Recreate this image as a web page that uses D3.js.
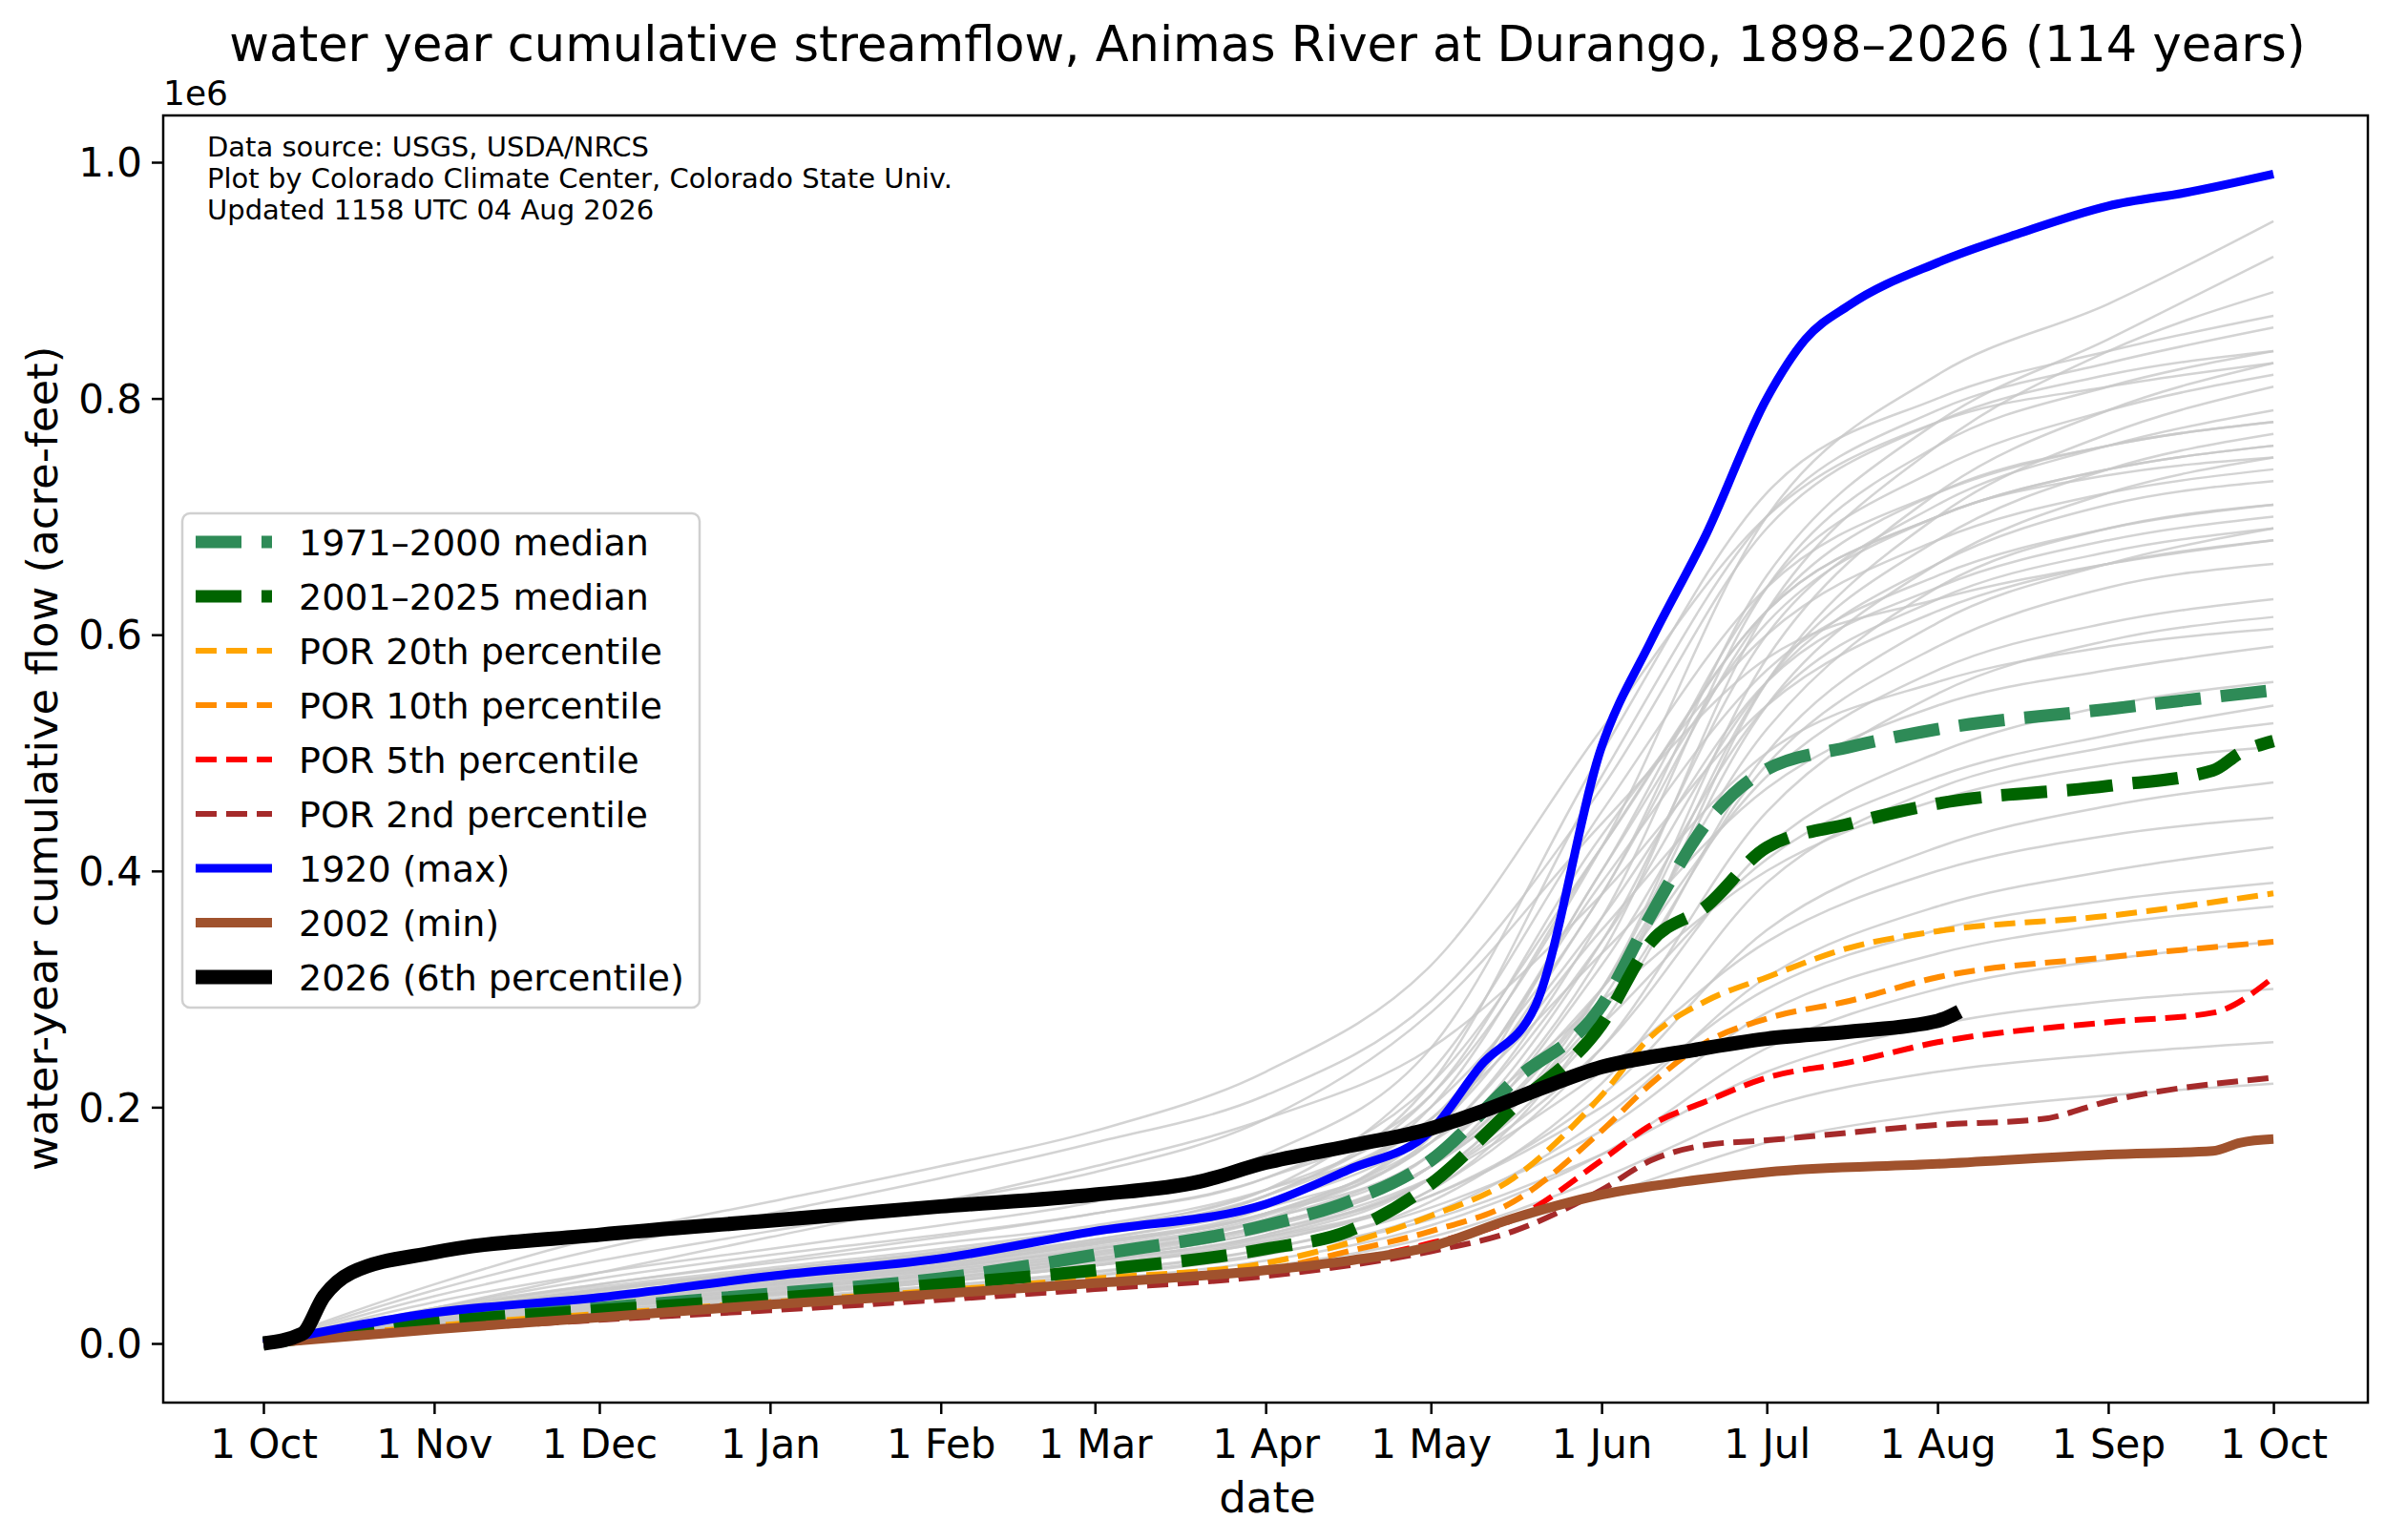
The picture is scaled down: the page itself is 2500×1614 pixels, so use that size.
<!DOCTYPE html>
<html><head><meta charset="utf-8">
<script src="https://cdn.jsdelivr.net/npm/d3@7"></script>
<style>body{margin:0;background:#fff}text{font-family:"DejaVu Sans",sans-serif}</style>
</head><body><svg id="c" width="2500" height="1614"></svg>
<script>
// day offsets from 1 Oct
const monthDays = [0,31,61,92,123,151,182,212,243,273,304,335,365];
const monthLabels = ["1 Oct","1 Nov","1 Dec","1 Jan","1 Feb","1 Mar","1 Apr","1 May","1 Jun","1 Jul","1 Aug","1 Sep","1 Oct"];
const yTicks = [0,0.2,0.4,0.6,0.8,1.0];
// gray historical years (thousand acre-feet at monthDays)
const grayYears = [
[0,30,50,70,90,110,140,210,420,700,820,880,950],
[0,25,45,60,75,95,130,200,380,650,780,850,920],
[0,20,38,52,66,85,110,160,330,620,760,840,890],
[0,35,60,80,100,120,160,250,500,720,800,840,870],
[0,22,40,55,70,88,115,170,360,640,760,810,840],
[0,18,32,45,58,72,95,140,300,580,720,790,830],
[0,28,50,68,85,100,130,190,400,640,740,790,820],
[0,15,30,42,55,70,90,130,280,560,700,770,810],
[0,20,36,50,64,80,105,160,340,600,710,760,790],
[0,25,42,56,70,86,110,180,380,620,720,760,780],
[0,18,33,46,58,74,98,150,300,560,680,740,770],
[0,30,55,75,92,110,140,220,420,620,700,740,760],
[0,16,30,42,54,68,90,140,290,540,660,720,750],
[0,22,40,54,68,84,110,170,340,560,660,710,730],
[0,20,36,50,62,78,100,150,300,520,640,690,710],
[0,24,44,60,75,92,120,190,360,560,640,680,700],
[0,17,31,43,55,70,92,140,270,500,610,660,690],
[0,40,70,95,120,145,190,280,440,580,630,660,680],
[0,19,34,47,60,75,100,150,280,490,590,640,660],
[0,21,38,52,65,80,105,160,300,480,570,610,630],
[0,15,28,40,52,66,88,130,250,450,550,595,615],
[0,26,46,62,77,94,125,190,330,470,540,570,590],
[0,18,32,44,56,70,92,140,250,420,500,540,560],
[0,20,36,49,62,77,100,150,270,410,480,515,540],
[0,14,26,37,48,60,80,120,220,390,470,505,525],
[0,22,40,54,68,84,110,170,290,400,460,490,505],
[0,16,30,41,52,66,86,125,210,350,420,455,475],
[0,19,34,46,58,72,95,140,230,340,400,430,445],
[0,13,25,35,45,57,75,110,190,310,370,400,420],
[0,17,31,42,53,66,86,125,200,300,350,375,390],
[0,15,28,38,49,61,80,115,180,280,330,355,370],
[0,12,23,33,43,54,70,100,160,250,300,325,340],
[0,14,26,36,46,58,76,105,160,230,270,290,300],
[0,11,21,30,40,50,65,90,140,200,230,245,255],
[0,12,22,31,40,50,64,85,125,170,195,210,220],
[0,45,80,110,140,170,210,290,470,690,780,820,840],
[0,50,90,120,150,180,230,320,520,700,780,810,830],
[0,30,60,90,120,150,190,250,380,540,620,660,680],
[0,25,45,60,76,95,125,220,480,700,790,830,860],
[0,20,38,52,66,82,108,175,400,610,700,735,750],
[0,18,34,48,60,76,100,150,320,540,630,670,690],
[0,24,42,57,72,88,118,180,350,500,560,590,605],
[0,28,48,64,80,98,130,230,450,640,720,760,780],
[0,22,40,55,70,86,115,200,420,620,700,740,760],
[0,26,46,62,78,96,125,210,430,600,680,720,740],
[0,20,36,50,64,80,105,185,390,570,650,690,710]
];
// highlighted series: [day, thousand acre-feet]
const med7100 = [[0,0],[31,20],[61,30],[92,42],[123,55],[151,75],[182,100],[197,120],[212,155],[227,222],[243,286],[252,363],[262,440],[273,486],[288,505],[304,520],[335,537],[365,553]];
const med0125 = [[0,0],[31,18],[61,28],[92,38],[123,50],[151,62],[182,80],[197,95],[212,135],[227,200],[243,270],[252,340],[262,370],[273,420],[288,440],[304,457],[335,472],[354,485],[359,500],[365,510]];
const p20 = [[0,0],[31,15],[61,25],[92,35],[123,45],[151,55],[182,68],[197,85],[212,108],[227,140],[243,210],[252,260],[262,290],[273,310],[288,335],[304,349],[335,362],[365,381]];
const p10 = [[0,0],[31,13],[61,22],[92,32],[123,41],[151,50],[182,62],[197,78],[212,95],[227,120],[243,180],[252,220],[262,255],[273,275],[288,290],[304,310],[335,327],[365,340]];
const p05 = [[0,0],[31,12],[61,21],[92,30],[123,39],[151,48],[182,60],[197,70],[212,85],[227,105],[243,155],[252,185],[262,205],[273,225],[288,238],[304,255],[335,272],[354,280],[365,310]];
const p02 = [[0,0],[31,11],[61,20],[92,28],[123,37],[151,46],[182,57],[197,66],[212,78],[227,95],[243,130],[252,155],[262,168],[273,172],[304,185],[323,190],[335,205],[365,225]];
const y1920 = [[0,0],[31,26],[61,39],[92,57],[123,72],[151,95],[182,118],[197,147],[212,180],[221,235],[231,286],[243,505],[252,595],[262,685],[273,800],[280,850],[288,879],[304,915],[319,940],[335,963],[350,975],[365,990]];
const y2002 = [[0,0],[31,12],[61,22],[92,33],[123,42],[151,51],[182,62],[197,70],[212,82],[227,106],[243,126],[258,137],[273,145],[304,152],[335,160],[354,163],[359,170],[365,173]];
const y2026 = [[0,0],[7,8],[11,40],[16,60],[31,77],[61,92],[92,104],[123,116],[151,126],[170,137],[182,153],[197,167],[212,182],[221,196],[231,214],[243,234],[258,247],[273,258],[288,264],[304,273],[308,281]];

const svg = d3.select("#c");
const L=171,R=2481,T=121,B=1470;
const x = d3.scaleLinear().domain([(L-276)/5.77, (R-276)/5.77]).range([L,R]);
const y = d3.scaleLinear().domain([0,1e6]).range([1408,170]);
const line = d3.line().x(d=>x(d[0])).y(d=>y(d[1]*1000)).curve(d3.curveMonotoneX);
const g = svg.append("g");
grayYears.forEach(v=>{
  g.append("path").attr("d", line(v.map((val,i)=>[monthDays[i],val]))).attr("fill","none").attr("stroke","#c8c8c8").attr("stroke-opacity",0.8).attr("stroke-width",2.5);
});
const series = [
 {d:med7100,c:"#2e8b57",w:13,dash:"48,21",label:"1971–2000 median"},
 {d:med0125,c:"#006400",w:13,dash:"48,21",label:"2001–2025 median"},
 {d:p20,c:"#ffa500",w:6,dash:"22,10",label:"POR 20th percentile"},
 {d:p10,c:"#ff8c00",w:6,dash:"22,10",label:"POR 10th percentile"},
 {d:p05,c:"#ff0000",w:6,dash:"22,10",label:"POR 5th percentile"},
 {d:p02,c:"#a52a2a",w:6,dash:"22,10",label:"POR 2nd percentile"},
 {d:y1920,c:"#0000ff",w:9,dash:null,label:"1920 (max)"},
 {d:y2002,c:"#a0522d",w:10,dash:null,label:"2002 (min)"},
 {d:y2026,c:"#000000",w:15,dash:null,label:"2026 (6th percentile)"}
];
[2,3,4,5,0,1,7,6,8].forEach(i=>{
  const s=series[i];
  g.append("path").attr("d",line(s.d)).attr("fill","none").attr("stroke",s.c).attr("stroke-width",s.w)
   .attr("stroke-dasharray",s.dash).attr("stroke-linejoin","round");
});
svg.append("rect").attr("x",L).attr("y",T).attr("width",R-L).attr("height",B-T).attr("fill","none").attr("stroke","#000").attr("stroke-width",2.5);
const xa = svg.append("g").attr("transform",`translate(0,${B})`).call(d3.axisBottom(x).tickValues(monthDays).tickFormat((d,i)=>monthLabels[i]).tickSize(12).tickPadding(10));
const ya = svg.append("g").attr("transform",`translate(${L},0)`).call(d3.axisLeft(y).tickValues(yTicks.map(v=>v*1e6)).tickFormat(d=>(d/1e6).toFixed(1)).tickSize(12).tickPadding(10));
[xa,ya].forEach(a=>{a.select(".domain").remove();a.selectAll("line").attr("stroke-width",2.5);a.selectAll("text").style("font-family","DejaVu Sans").style("font-size","42px");});
xa.selectAll("text").attr("dy","0.85em");
ya.selectAll("text").attr("dy","0.35em");
svg.append("text").attr("x",1328).attr("y",64).attr("text-anchor","middle").style("font-size","51px").text("water year cumulative streamflow, Animas River at Durango, 1898–2026 (114 years)");
svg.append("text").attr("x",L).attr("y",110).style("font-size","36px").text("1e6");
svg.append("text").attr("x",1328).attr("y",1585).attr("text-anchor","middle").style("font-size","45px").text("date");
svg.append("text").attr("transform","translate(60,795) rotate(-90)").attr("text-anchor","middle").style("font-size","45px").text("water-year cumulative flow (acre-feet)");
["Data source: USGS, USDA/NRCS","Plot by Colorado Climate Center, Colorado State Univ.","Updated 1158 UTC 04 Aug 2026"].forEach((t,i)=>{
  svg.append("text").attr("x",217).attr("y",164+i*33).style("font-size","29px").text(t);
});
const lg = svg.append("g");
lg.append("rect").attr("x",191).attr("y",538).attr("width",542).attr("height",518).attr("rx",8).attr("fill","#fff").attr("fill-opacity",0.85).attr("stroke","#d0d0d0").attr("stroke-width",2.5);
series.forEach((s,i)=>{
  const cy=568+i*57;
  lg.append("line").attr("x1",205).attr("x2",285).attr("y1",cy).attr("y2",cy).attr("stroke",s.c).attr("stroke-width",s.w).attr("stroke-dasharray",s.dash);
  lg.append("text").attr("x",313).attr("y",cy+14).style("font-size","38px").text(s.label);
});
</script></body></html>
